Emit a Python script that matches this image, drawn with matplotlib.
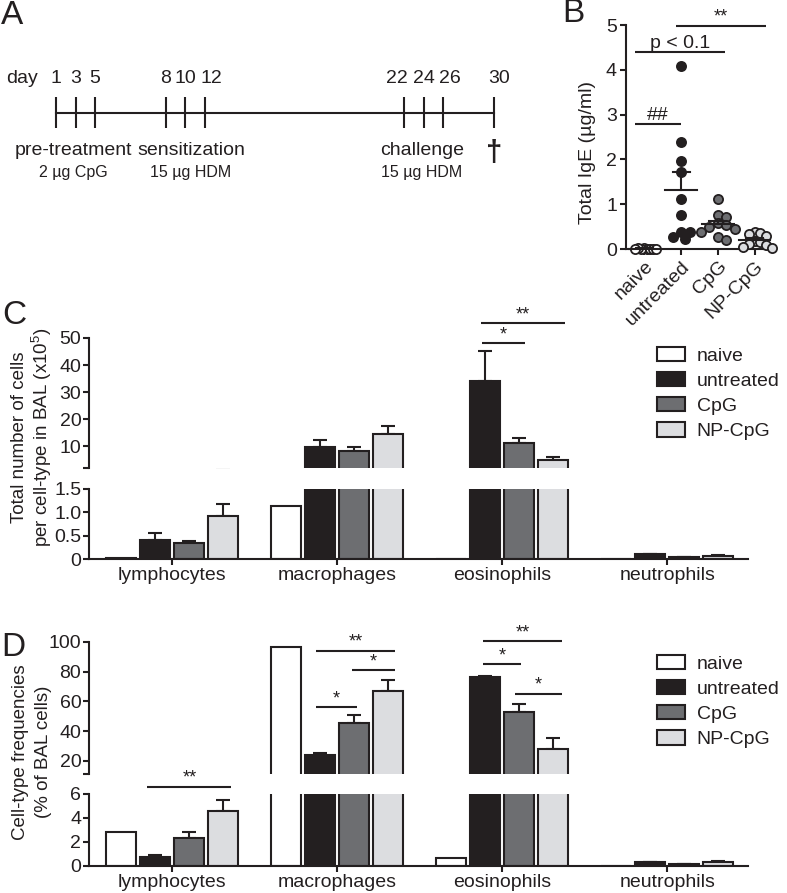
import numpy as np
import matplotlib
matplotlib.use('Agg')
import matplotlib.pyplot as plt
from matplotlib.patches import Patch

INK = '#231f20'
plt.rcParams['font.family'] = ['Liberation Sans', 'DejaVu Sans']
plt.rcParams['font.size'] = 14
plt.rcParams['mathtext.fontset'] = 'custom'
plt.rcParams['mathtext.rm'] = 'Liberation Sans'
plt.rcParams['text.color'] = INK
plt.rcParams['axes.edgecolor'] = INK
plt.rcParams['axes.linewidth'] = 1.5
plt.rcParams['xtick.color'] = INK
plt.rcParams['ytick.color'] = INK
plt.rcParams['xtick.major.width'] = 1.5
plt.rcParams['ytick.major.width'] = 1.5
plt.rcParams['xtick.major.size'] = 4.5
plt.rcParams['ytick.major.size'] = 4.5

# ---- data ----
groups = ['naive', 'untreated', 'CpG', 'NP-CpG']
group_colors = ['#ffffff', '#231f20', '#6d6e71', '#dcdde0']
cell_types = ['lymphocytes', 'macrophages', 'eosinophils', 'neutrophils']

# A: protocol timeline (schematic spacing)
timeline_days = [1, 3, 5, 8, 10, 12, 22, 24, 26, 30]
timeline_pos = [0, 1, 2, 5.6, 6.6, 7.6, 17.8, 18.8, 19.8, 22.4]
day_nudge = [0, 0, 0, 0, 0, 0.35, -0.35, 0, 0.35, 0.25]
phase_names = ['pre-treatment', 'sensitization', 'challenge']
phase_doses = ['2 µg CpG', '15 µg HDM', '15 µg HDM']
phase_pos = [0.9, 6.9, 18.7]

# B: total IgE (µg/ml)
ige_naive = [0.02, 0.0, 0.01, 0.0, 0.02, 0.01, 0.0, 0.01]
ige_untreated = [4.08, 2.38, 1.97, 1.72, 1.12, 0.76, 0.38, 0.22, 0.38, 0.27]
ige_cpg = [1.12, 0.76, 0.72, 0.57, 0.53, 0.49, 0.45, 0.39, 0.27, 0.2]
ige_np = [0.38, 0.36, 0.34, 0.30, 0.18, 0.15, 0.12, 0.08, 0.05, 0.02]
ige_sig = [(-0.25, 1.0, 2.8, '##'), (-0.25, 2.2, 4.4, 'p < 0.1'), (0.86, 3.3, 4.98, '**')]

# C: total cells per cell type (x10^5), mean and SEM
count_mean = [[0.03, 1.13, 0.01, 0.005],
              [0.41, 9.8, 34.1, 0.10],
              [0.35, 8.3, 11.1, 0.04],
              [0.92, 14.3, 4.8, 0.07]]
count_sem = [[0, 0, 0, 0],
             [0.15, 2.6, 11.1, 0.01],
             [0.04, 1.5, 1.9, 0.005],
             [0.26, 3.3, 1.1, 0.01]]
count_sig = [(1.873, 2.38, 55.5, '**'), (1.88, 2.14, 48.1, '*')]

# D: cell-type frequencies (% of BAL cells), mean and SEM
freq_mean = [[2.8, 96.6, 0.67, 0.02],
             [0.78, 23.6, 76.5, 0.3],
             [2.3, 45.5, 52.7, 0.15],
             [4.6, 67.0, 27.8, 0.3]]
freq_sem = [[0, 0, 0, 0],
            [0.1, 1.8, 0.8, 0.05],
            [0.5, 5.4, 5.7, 0.03],
            [0.9, 7.6, 7.8, 0.1]]
freq_sig_top = [(0.873, 1.352, 94, '**'), (1.09, 1.352, 81, '*'), (0.873, 1.12, 56, '*'),
                (1.885, 2.364, 100.5, '**'), (1.885, 2.115, 85, '*'), (2.08, 2.36, 65, '*')]
freq_sig_bot = [(-0.15, 0.36, 6.6, '**')]

W, H = 787, 893
fig = plt.figure(figsize=(W / 100, H / 100), dpi=100)


def box(x0, y0, x1, y1):
    # pixel box (top-left origin) -> figure fraction rect
    return [x0 / W, 1 - y1 / H, (x1 - x0) / W, (y1 - y0) / H]


def sig(ax, x0, x1, y, label, size=13):
    ax.plot([x0, x1], [y, y], color=INK, lw=1.5, clip_on=False, solid_capstyle='butt')
    ax.annotate(label, ((x0 + x1) / 2, y), xytext=(0, 0), textcoords='offset points',
                ha='center', va='bottom', fontsize=size, annotation_clip=False)


# ---- A ----
ax_a = fig.add_axes(box(56, 97, 494, 128))
ax_a.set_xlim(timeline_pos[0], timeline_pos[-1])
ax_a.set_ylim(-1, 1)
ax_a.axis('off')
ax_a.plot([timeline_pos[0], timeline_pos[-1]], [0, 0], color=INK, lw=1.5, clip_on=False)
ax_a.vlines(timeline_pos, -1, 1, color=INK, lw=1.5, clip_on=False)
for d, p, n in zip(timeline_days, timeline_pos, day_nudge):
    ax_a.text(p + n, 2.2, str(d), ha='center', va='center', fontsize=14)
ax_a.text(-1.74, 2.2, 'day', ha='center', va='center', fontsize=14)
for name, dose, p in zip(phase_names, phase_doses, phase_pos):
    ax_a.text(p, -2.45, name, ha='center', va='center', fontsize=14)
    ax_a.text(p, -3.85, dose, ha='center', va='center', fontsize=11.5)
ax_a.text(timeline_pos[-1], -2.6, '†', ha='center', va='center', fontsize=21, fontweight='bold')

# ---- B ----
ax_b = fig.add_axes(box(626, 25, 773, 249))
ax_b.set_xlim(-0.5, 3.5)
ax_b.set_ylim(0, 5)
for s in ('top', 'right'):
    ax_b.spines[s].set_visible(False)
ax_b.set_yticks(range(6))
ax_b.set_xticks(range(4))
ax_b.set_xticklabels(groups, rotation=45, ha='right', rotation_mode='anchor')
ax_b.tick_params(axis='x', pad=2)
ax_b.tick_params(axis='y', pad=2)

px_per_x = ax_b.transData.transform((1, 0))[0] - ax_b.transData.transform((0, 0))[0]
px_per_y = ax_b.transData.transform((0, 1))[1] - ax_b.transData.transform((0, 0))[1]
diam = 8.5


def swarm(values, max_half):
    placed = []
    offs = []
    for v in values:
        yp = v * px_per_y
        k = 0
        while True:
            cands = [0.0] if k == 0 else [k * diam / 2, -k * diam / 2]
            ok = None
            for c in cands:
                if all((c - px) ** 2 + (yp - py) ** 2 >= (diam * 0.95) ** 2 for px, py in placed):
                    ok = c
                    break
            if ok is not None:
                placed.append((ok, yp))
                offs.append(ok)
                break
            k += 1
    offs = np.array(offs)
    m = np.abs(offs).max()
    if m > max_half:
        offs = offs * max_half / m
    return offs / px_per_x


for i, vals in enumerate([ige_naive, ige_untreated, ige_cpg, ige_np]):
    offs = swarm(vals, 17 if i else 12)
    ax_b.plot(i + offs, vals, 'o', ms=6.6, mfc=group_colors[i], mec=INK, mew=1.3,
              clip_on=False, zorder=3, ls='none')
    mean = np.mean(vals)
    sem = np.std(vals, ddof=1) / np.sqrt(len(vals))
    ax_b.plot([i - 0.43, i + 0.43], [mean, mean], color=INK, lw=1.5, zorder=4, clip_on=False)
    ax_b.plot([i, i], [mean, mean + sem], color=INK, lw=1.5, zorder=4)
    ax_b.plot([i - 0.23, i + 0.23], [mean + sem, mean + sem], color=INK, lw=1.5, zorder=4)
for x0, x1, y, lab in ige_sig:
    sig(ax_b, x0, x1, y, lab, size=14 if lab != '**' else 13)
fig.text(588 / W, 1 - 153 / H, 'Total IgE (µg/ml)', rotation=90, ha='center', va='center')

# ---- C and D: broken-axis bar charts ----
step, width = 0.206, 0.182


def broken(top_box, bot_box, means, sems, top_lim, bot_lim, top_ticks, bot_ticks, bot_labels):
    ax_t = fig.add_axes(box(*top_box))
    ax_b2 = fig.add_axes(box(*bot_box))
    for ax in (ax_t, ax_b2):
        ax.set_xlim(-0.503, 3.49)
        for s in ('top', 'right'):
            ax.spines[s].set_visible(False)
        for i in range(4):
            xs = np.arange(4) + (i - 1.5) * step
            ax.bar(xs, means[i], width, color=group_colors[i], edgecolor=INK, linewidth=1.5, zorder=2)
            if i:
                ax.errorbar(xs, means[i], yerr=[np.zeros(4), sems[i]], fmt='none', ecolor=INK,
                            elinewidth=1.5, capsize=5, capthick=1.5, zorder=1)
    ax_t.set_ylim(*top_lim)
    ax_t.spines['bottom'].set_visible(False)
    ax_t.set_xticks([])
    ax_t.set_yticks([top_lim[0]] + top_ticks)
    ax_t.set_yticklabels([''] + [str(t) for t in top_ticks])
    ax_b2.set_ylim(*bot_lim)
    ax_b2.set_yticks(bot_ticks)
    ax_b2.set_yticklabels(bot_labels)
    ax_b2.set_xticks(range(4))
    ax_b2.set_xticklabels(cell_types)
    ax_b2.tick_params(axis='x', pad=1)
    for ax in (ax_t, ax_b2):
        ax.tick_params(axis='y', pad=1)
    return ax_t, ax_b2


c_top, c_bot = broken((89, 338, 748, 468), (89, 489, 748, 559), count_mean, count_sem,
                      (1.9, 50), (0, 1.5), [10, 20, 30, 40, 50], [0, 0.5, 1.0, 1.5],
                      ['0', '0.5', '1.0', '1.5'])
for x0, x1, y, lab in count_sig:
    sig(c_top, x0, x1, y, lab)

d_top, d_bot = broken((89, 642, 748, 774), (89, 794, 748, 866), freq_mean, freq_sem,
                      (11.1, 100), (0, 6), [20, 40, 60, 80, 100], [0, 2, 4, 6],
                      ['0', '2', '4', '6'])
for x0, x1, y, lab in freq_sig_top:
    sig(d_top, x0, x1, y, lab)
for x0, x1, y, lab in freq_sig_bot:
    sig(d_bot, x0, x1, y, lab)

# two-line y labels, one text per line
fig.text(20 / W, 1 - 437 / H, 'Total number of cells', rotation=90, ha='center', va='center',
         fontsize=13.5)
fig.text(42 / W, 1 - 437 / H, 'per cell-type in BAL (x10$^{\\mathregular{5}}$)',
         rotation=90, ha='center', va='center', fontsize=13.5)
fig.text(21 / W, 1 - 752 / H, 'Cell-type frequencies', rotation=90, ha='center', va='center',
         fontsize=13.5)
fig.text(43 / W, 1 - 752 / H, '(% of BAL cells)', rotation=90, ha='center', va='center',
         fontsize=13.5)

handles = [Patch(facecolor=c, edgecolor=INK, linewidth=1.5) for c in group_colors]
for top_px in (347, 655):
    fig.legend(handles, groups, loc='upper left', bbox_to_anchor=(657 / W, 1 - top_px / H),
               frameon=False, fontsize=14, handlelength=1.45, handleheight=0.75,
               handletextpad=0.6, labelspacing=0.37, borderpad=0, borderaxespad=0)

# panel letters
for lab, x, y in [('A', 12, 15), ('B', 573, 14), ('C', 14, 316), ('D', 13, 647)]:
    fig.text(x / W, 1 - y / H, lab, fontsize=24, ha='center', va='center')

fig.savefig('out.png', dpi=100)
